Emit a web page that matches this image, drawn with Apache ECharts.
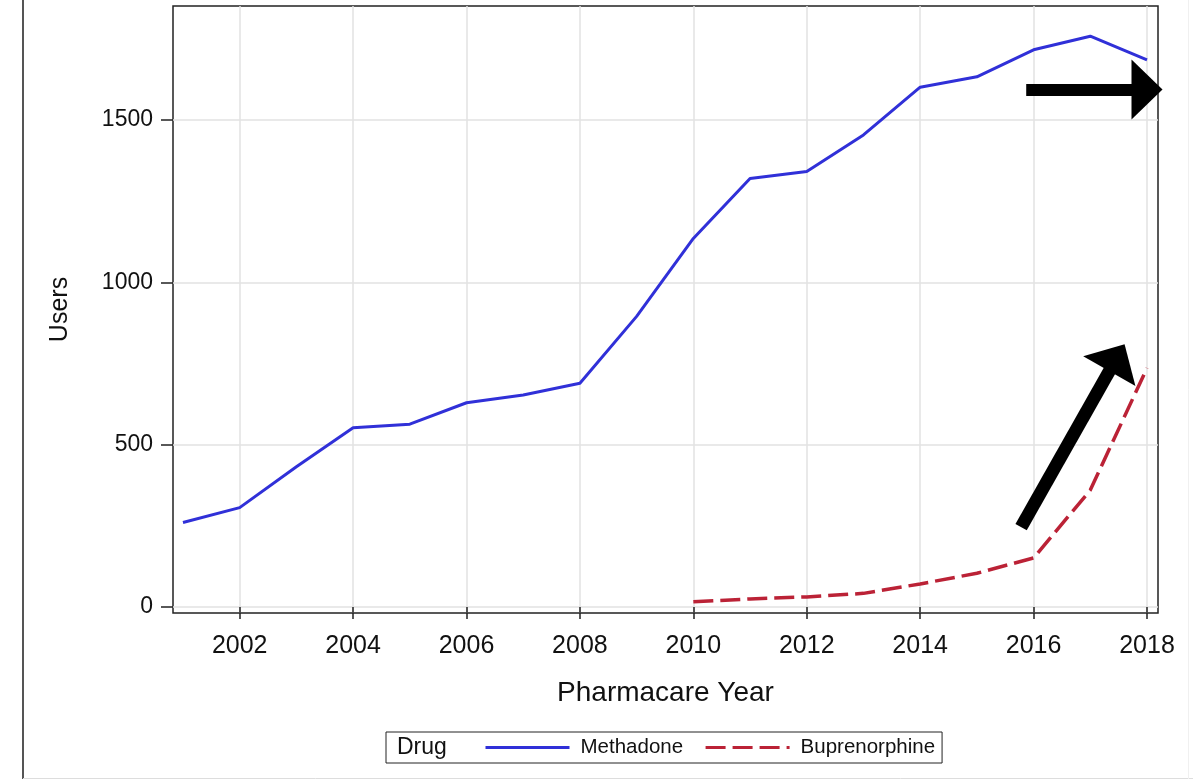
<!DOCTYPE html>
<html>
<head>
<meta charset="utf-8">
<script src="https://cdn.jsdelivr.net/npm/echarts@6/dist/echarts.min.js"></script>
<style>
html,body{margin:0;padding:0;background:#fff;}
#chart{width:1193px;height:780px;}
</style>
</head>
<body>
<div id="chart"></div>
<script>
// ---- data ----
var years = [2001,2002,2003,2004,2005,2006,2007,2008,2009,2010,2011,2012,2013,2014,2015,2016,2017,2018];
var methadone = [260,306,432,552,563,629,653,689,895,1135,1320,1341,1454,1601,1633,1716,1758,1685];
var bupYears = [2010,2011,2012,2013,2014,2015,2016,2017,2018];
var buprenorphine = [16,25,31,42,71,104,151,360,736];
var xTickValues = [2002,2004,2006,2008,2010,2012,2014,2016,2018];
var yTickValues = [0,500,1000,1500];
var seriesNames = ['Methadone','Buprenorphine'];
var legendTitle = 'Drug';
var xTitle = 'Pharmacare Year';
var yTitle = 'Users';
// annotation arrows (data coordinates): [fromYear, fromValue, toYear, toValue]
var arrowFlat = [2015.87, 1594, 2018.0, 1594];
var arrowRise = [2015.78, 246, 2017.47, 768];

function pairs(xs, ys){ return xs.map(function(x,i){ return [x, ys[i]]; }); }

var font = 'Liberation Sans, Arial, Helvetica, sans-serif';
var chart = echarts.init(document.getElementById('chart'), null, {renderer:'canvas'});

var option = {
  animation: false,
  backgroundColor: '#fff',
  textStyle: {fontFamily: font},
  grid: {left: 173, top: 6, width: 985, height: 607, show: true, borderColor: '#222', borderWidth: 1.5, backgroundColor: 'transparent', containLabel: false},
  xAxis: {
    type: 'value', min: 2000.824, max: 2018.194,
    name: xTitle, nameLocation: 'middle', nameGap: 66,
    nameTextStyle: {fontSize: 28, color: '#111', fontFamily: font},
    axisLine: {show: false},
    axisTick: {show: true, inside: false, length: 12, lineStyle: {color: '#222', width: 1.5}, customValues: xTickValues},
    axisLabel: {show: true, margin: 21, fontSize: 25, color: '#111', fontFamily: font, customValues: xTickValues, formatter: function(v){ return String(v); }},
    splitLine: {show: true, lineStyle: {color: '#e2e2e2', width: 1.5}}
  },
  yAxis: {
    type: 'value', min: -18.5, max: 1851,
    name: yTitle, nameLocation: 'middle', nameGap: 100, nameRotate: 90,
    nameTextStyle: {fontSize: 25, color: '#111', fontFamily: font},
    axisLine: {show: false},
    axisTick: {show: true, inside: false, length: 12, lineStyle: {color: '#222', width: 1.5}, customValues: yTickValues},
    axisLabel: {show: true, margin: 20, fontSize: 23, color: '#111', fontFamily: font, customValues: yTickValues, formatter: function(v){ return String(v); }},
    splitLine: {show: true, lineStyle: {color: '#e2e2e2', width: 1.5}}
  },
  legend: {
    show: true, left: 386, top: 732, orient: 'horizontal',
    padding: [5, 7, 5, 98], itemGap: 21, itemWidth: 84, itemHeight: 14,
    borderColor: '#222', borderWidth: 1, backgroundColor: '#fff',
    itemStyle: {opacity: 0, borderWidth: 0},
    lineStyle: {width: 3},
    textStyle: {fontSize: 20.5, color: '#111', fontFamily: font, lineHeight: 21, padding: [0,0,0,6]},
    data: seriesNames, selectedMode: false
  },
  graphic: [
    {type: 'line', shape: {x1: 23, y1: 0, x2: 23, y2: 779}, style: {stroke: '#555', lineWidth: 2}, silent: true},
    {type: 'line', shape: {x1: 23, y1: 778.5, x2: 1193, y2: 778.5}, style: {stroke: '#ddd', lineWidth: 1}, silent: true},
    {type: 'line', shape: {x1: 1188.5, y1: 0, x2: 1188.5, y2: 779}, style: {stroke: '#f0f0f0', lineWidth: 1}, silent: true},
    {type: 'text', x: 397, y: 748, style: {text: legendTitle, fontSize: 23, fontFamily: font, fill: '#111', verticalAlign: 'middle', align: 'left'}, z: 100, silent: true}
  ],
  series: [
    {
      name: seriesNames[0], type: 'line', data: pairs(years, methadone),
      symbol: 'none', showSymbol: false, smooth: false, clip: false,
      lineStyle: {color: '#3030d8', width: 3}, itemStyle: {color: '#3030d8'},
      emphasis: {disabled: true}, silent: true
    },
    {
      name: seriesNames[1], type: 'line', data: pairs(bupYears, buprenorphine),
      symbol: 'none', showSymbol: false, smooth: false, clip: false,
      lineStyle: {color: '#bb2236', width: 3.5, type: [20, 7]}, itemStyle: {color: '#bb2236'},
      emphasis: {disabled: true}, silent: true,
      markLine: {
        silent: true, animation: false,
        symbol: ['none', 'triangle'], symbolSize: [60, 31],
        label: {show: false}, emphasis: {disabled: true},
        lineStyle: {color: '#000', width: 12, type: 'solid', cap: 'butt'},
        itemStyle: {color: '#000'},
        data: [
          [{coord: [arrowFlat[0], arrowFlat[1]], lineStyle: {width: 12}}, {coord: [arrowFlat[2], arrowFlat[3]]}],
          [{coord: [arrowRise[0], arrowRise[1]], lineStyle: {width: 13}}, {coord: [arrowRise[2], arrowRise[3]]}]
        ]
      }
    }
  ]
};
chart.setOption(option);
</script>
</body>
</html>
